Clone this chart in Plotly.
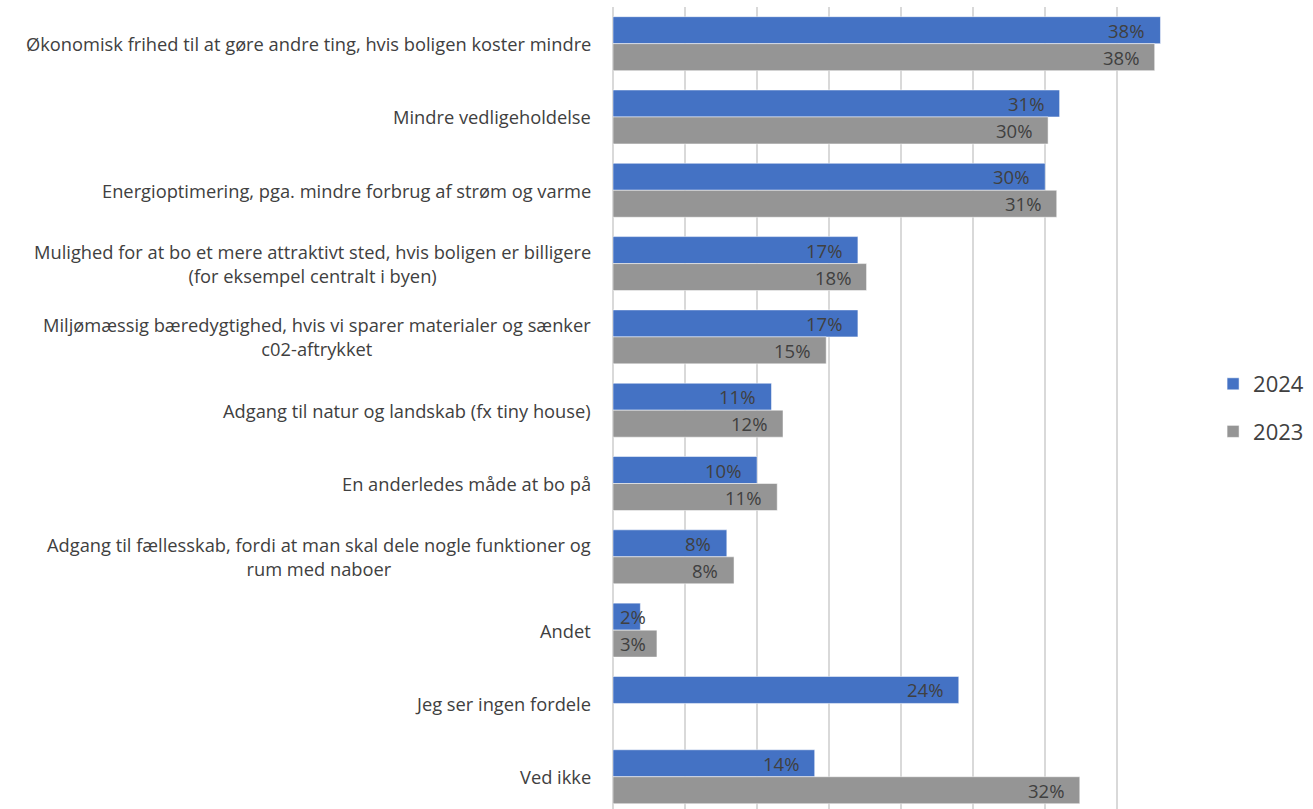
import plotly.graph_objects as go

categories = [
    "Økonomisk frihed til at gøre andre ting, hvis boligen koster mindre",
    "Mindre vedligeholdelse",
    "Energioptimering, pga. mindre forbrug af strøm og varme",
    "Mulighed for at bo et mere attraktivt sted, hvis boligen er billigere<br>(for eksempel centralt i byen)",
    "Miljømæssig bæredygtighed, hvis vi sparer materialer og sænker<br>c02-aftrykket",
    "Adgang til natur og landskab (fx tiny house)",
    "En anderledes måde at bo på",
    "Adgang til fællesskab, fordi at man skal dele nogle funktioner og<br>rum med naboer",
    "Andet",
    "Jeg ser ingen fordele",
    "Ved ikke",
]
values_2024 = [38.0, 31.0, 30.0, 17.0, 17.0, 11.0, 10.0, 7.9, 1.9, 24.0, 14.0]
values_2023 = [37.6, 30.2, 30.8, 17.6, 14.8, 11.8, 11.4, 8.4, 3.05, None, 32.4]

BLUE = "#4472C4"
GREY = "#959595"
TXT = "#404040"
FONT = "Open Sans"

idx = list(range(len(categories)))

fig = go.Figure()
fig.add_trace(go.Bar(
    y=idx, x=values_2024, orientation="h", name="2024",
    marker=dict(color=BLUE, line=dict(color="rgba(255,255,255,0.5)", width=1)),
    width=0.368, offset=-0.368, legendgroup="a",
))
fig.add_trace(go.Bar(
    y=idx, x=values_2023, orientation="h", name="2023",
    marker=dict(color=GREY, line=dict(color="rgba(255,255,255,0.5)", width=1)),
    width=0.368, offset=0.0, legendgroup="b",
))

annotations = []
for i, cat in enumerate(categories):
    annotations.append(dict(
        x=0, xref="paper", y=i, yref="y", text=cat, showarrow=False,
        xanchor="right", yanchor="middle", align="center", xshift=-20,
        font=dict(family=FONT, size=18.3, color=TXT),
    ))
for series, off in ((values_2024, -0.184), (values_2023, 0.184)):
    for i, v in enumerate(series):
        if v is None:
            continue
        annotations.append(dict(
            x=max(v, 3.4), xref="x", y=i + off, yref="y",
            text=f"{round(v):d}%", showarrow=False,
            xanchor="right", yanchor="middle", xshift=-14,
            font=dict(family=FONT, size=18.5, color=TXT),
        ))

fig.update_layout(
    width=1313, height=809,
    margin=dict(l=613, r=123, t=7, b=0),
    plot_bgcolor="white", paper_bgcolor="white",
    barmode="overlay",
    showlegend=True,
    legend=dict(
        x=1.04, xref="paper", xanchor="left", y=0.5, yanchor="middle",
        font=dict(family=FONT, size=22, color=TXT),
        traceorder="grouped", tracegroupgap=16, itemwidth=30,
    ),
    annotations=annotations,
    font=dict(family=FONT, color=TXT),
)
fig.update_xaxes(
    range=[0, 40.05], dtick=5, tick0=0, showgrid=True, gridcolor="#D9D9D9",
    gridwidth=1.5, showticklabels=False, zeroline=True, zerolinecolor="#D9D9D9",
    zerolinewidth=1.5, showline=False, fixedrange=True,
)
fig.update_yaxes(
    range=[10.44, -0.5], showticklabels=False, showgrid=False, zeroline=False,
    showline=False, fixedrange=True,
)

fig.write_html("out.html")
